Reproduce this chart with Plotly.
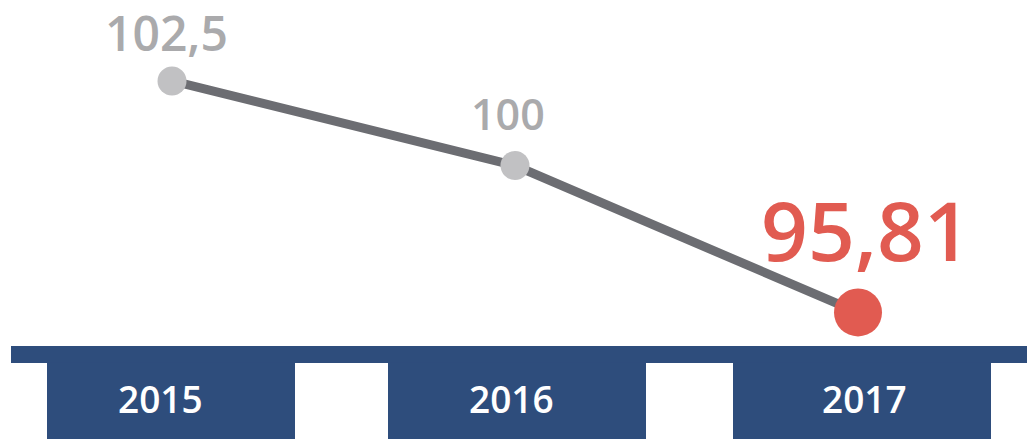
import math
import plotly.graph_objects as go

# ---- data ----
years = ["2015", "2016", "2017"]
values = [102.5, 100, 95.81]
value_labels = ["102,5", "100", "95,81"]

# ---- styles ----
marker_colors = ["#c1c1c3", "#c1c1c3", "#e15b51"]
marker_sizes = [29, 29, 48]
label_colors = ["#aaaaac", "#aaaaac", "#e15b51"]
label_sizes = [48, 43, 82]
label_xshift = [-6, -7, 8]
label_yshift = [48, 52, 83]
year_xshift = [-12, -4, 6]
BLUE = "#2e4d7c"
FONT = "Open Sans"
WEIGHT = 600

W, H = 1027, 439

fig = go.Figure()
fig.add_trace(go.Scatter(
    x=years, y=values, mode="lines+markers",
    line=dict(color="#6c6d72", width=9),
    marker=dict(color=marker_colors, size=marker_sizes, line=dict(width=0), opacity=1),
    cliponaxis=False, hoverinfo="skip",
))

annotations = []
for i, (yr, v, t) in enumerate(zip(years, values, value_labels)):
    annotations.append(dict(
        x=i, y=math.log10(v), xref="x", yref="y", text=t, showarrow=False,
        xanchor="center", yanchor="middle", borderpad=0,
        xshift=label_xshift[i], yshift=label_yshift[i],
        font=dict(family=FONT, size=label_sizes[i], color=label_colors[i], weight=WEIGHT),
    ))
    annotations.append(dict(
        x=i, y=1 - 398.5 / H, xref="x", yref="paper", text=yr, showarrow=False,
        xanchor="center", yanchor="middle", xshift=year_xshift[i],
        font=dict(family=FONT, size=37, color="white", weight=WEIGHT),
    ))

# decorative base bar and boxes (paper coordinates)
shapes = [dict(type="rect", xref="paper", yref="paper",
               x0=11 / W, x1=1.0, y0=1 - 363 / H, y1=1 - 346 / H,
               fillcolor=BLUE, line=dict(width=0), layer="below")]
for px0, px1 in [(47, 295), (388, 646), (733, 991)]:
    shapes.append(dict(type="rect", xref="paper", yref="paper",
                       x0=px0 / W, x1=px1 / W, y0=-0.05, y1=1 - 362.5 / H,
                       fillcolor=BLUE, line=dict(width=0), layer="below"))

fig.update_layout(
    width=W, height=H, margin=dict(l=0, r=0, t=0, b=0),
    paper_bgcolor="white", plot_bgcolor="white", showlegend=False,
    xaxis=dict(visible=False, range=[-0.50146, 2.49271], type="category",
               categoryorder="array", categoryarray=years, fixedrange=True),
    yaxis=dict(visible=False, type="log", range=[1.965392, 2.020962], fixedrange=True),
    annotations=annotations, shapes=shapes,
)

fig.write_html(
    "out.html",
    config={"displayModeBar": False},
    post_script="document.body.style.margin='0';document.body.style.overflow='hidden';",
)
